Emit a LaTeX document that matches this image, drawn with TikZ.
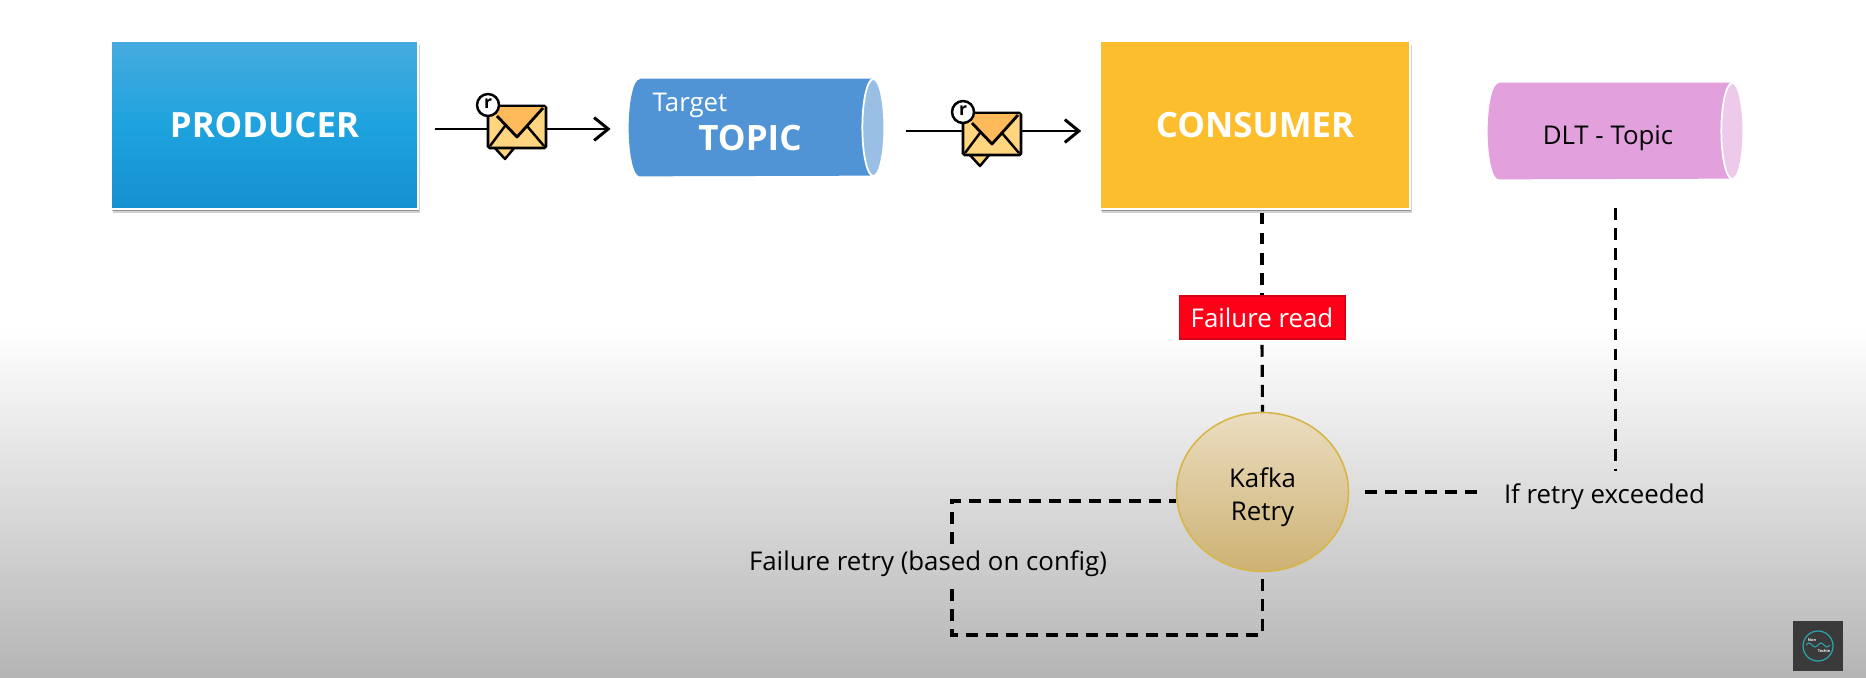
\documentclass[tikz,border=0pt]{standalone}
\usepackage{fontspec}
\setmainfont{Open Sans}
\usetikzlibrary{arrows.meta,shapes.geometric,shadows,positioning}
\definecolor{prodtop}{HTML}{46ABDE}
\definecolor{prodmid}{HTML}{1EA3DE}
\definecolor{prodbot}{HTML}{1590CE}
\definecolor{consfill}{HTML}{FDBE2E}
\definecolor{topicbody}{HTML}{5194D5}
\definecolor{topiccap}{HTML}{9ABFE5}
\definecolor{dltbody}{HTML}{E2A0DD}
\definecolor{dltcap}{HTML}{EDC9EA}
\definecolor{failred}{HTML}{FF0019}
\definecolor{kafkatop}{HTML}{EBDDC0}
\definecolor{kafkabot}{HTML}{CDB273}
\definecolor{kafkaline}{HTML}{D8B548}
\definecolor{mailback}{HTML}{FFD67F}
\definecolor{mailflap}{HTML}{FDB95A}
\definecolor{logoback}{HTML}{3A3A3A}
\definecolor{logoteal}{HTML}{2AA5AC}
% body and end cap of a pipe, drawn from the corners of its node
\newcommand{\pipebody}[3]{
    \fill[#2] ([xshift=0.22cm]#1.north west) -- ([xshift=-0.22cm]#1.north east)
        arc[start angle=90,end angle=-90,x radius=0.22cm,y radius=0.5*\pipeheight]
        -- ([xshift=0.22cm]#1.south west)
        arc[start angle=270,end angle=90,x radius=0.22cm,y radius=0.5*\pipeheight] -- cycle;
    \draw[white,line width=1pt,fill=#3] ([xshift=-0.22cm]#1.east) ellipse[x radius=0.22cm,y radius=0.5*\pipeheight];
}
\newlength{\pipeheight}
\tikzset{
  bigbox/.style={shape=rectangle,draw=white,line width=1pt,minimum width=6.2cm,minimum height=3.36cm,
    font=\fontsize{19.8}{22}\selectfont\bfseries,text=white,
    general shadow={shadow xshift=1pt,shadow yshift=-2pt,fill=black,opacity=0.18},
    general shadow={shadow xshift=0.4pt,shadow yshift=-0.9pt,fill=black,opacity=0.3}},
  pipe/.style={shape=rectangle,inner sep=0pt,minimum width=5.1cm},
  flow/.style={draw=black,line width=1.6pt,-{Straight Barb[length=8pt,width=13pt,line width=1.7pt]}},
  dashline/.style={draw=black,line width=1.8pt,dash pattern=on 6.8pt off 4.6pt},
  plain/.style={font=\fontsize{14.7}{17}\selectfont,text=black},
  mailicon/.pic={
    \draw[fill=mailback,line width=1.4pt,line join=round] (-23,20) -- (-12,32) -- (-2,20) -- cycle;
    \draw[fill=mailback,line width=1.6pt,rounded corners=1pt] (-29,-21) rectangle (29,21);
    \fill[mailflap] (-28,-20) -- (28,-20) -- (0,10) -- cycle;
    \draw[line width=1.4pt] (-27,19) -- (-12,-1);
    \draw[line width=1.4pt] (10,-1) -- (27,19);
    \draw[line width=1.6pt,line join=round] (-20,-11) -- (0,10) -- (26,-19);
    \draw[fill=white,line width=1.4pt] (-29,-22) circle (11);
    \node[font=\fontsize{10}{10}\selectfont\bfseries] (-badge) at (-29,-23) {r};
  }
}

\begin{document}
\begin{tikzpicture}[x=0.02cm,y=-0.02cm]

    % page and background
    \useasboundingbox (0,0) rectangle (1866,677);
    \fill[white] (0,0) rectangle (1866,677);
    \shade[top color=white,bottom color=black!29] (0,328) rectangle (1866,677);

    % top row
    \node[bigbox,minimum width=6.14cm,top color=prodtop,bottom color=prodbot,middle color=prodmid] (producer) at (264.5,125) {PRODUCER};
    \node[bigbox,fill=consfill] (consumer) at (1255,125) {CONSUMER};

    \setlength{\pipeheight}{1.94cm}
    \node[pipe,minimum height=1.94cm] (topic) at (756.5,127.5) {};
    \pipebody{topic}{topicbody}{topiccap}
    \setlength{\pipeheight}{1.92cm}
    \node[pipe,minimum height=1.92cm] (dlt) at (1615.5,131) {};
    \pipebody{dlt}{dltbody}{dltcap}

    \node[font=\fontsize{14.7}{17}\selectfont,text=white] (target) at (690,105.5) {Target};
    \node[font=\fontsize{19.9}{22}\selectfont\bfseries,text=white] (topicname) at (750,138) {TOPIC};
    \node[plain] (dltname) at (1608,138.5) {DLT - Topic};

    % messages on the arrows
    \coordinate (msgA) at (517,129);
    \coordinate (msgB) at (992,131);
    \draw[flow,shorten <=9pt,shorten >=10.3pt] (producer.east |- msgA) -- (topic.west |- msgA);
    \draw[flow,shorten <=12.5pt,shorten >=10.2pt] (topic.east |- msgB) -- (consumer.west |- msgB);
    \pic at (517,127) {mailicon};
    \pic at (992,134) {mailicon};

    % retry part
    \node[shape=rectangle,draw=failred!85!black,line width=0.6pt,fill=failred,text=white,font=\fontsize{14.7}{17}\selectfont,
        minimum width=3.32cm,minimum height=0.86cm] (fail) at (1262,317.5) {Failure read};
    \node[shape=ellipse,draw=kafkaline,line width=0.9pt,top color=kafkatop,bottom color=kafkabot,minimum width=3.44cm,minimum height=3.18cm,
        align=center,plain] (kafka) at (1262.5,492) {\rule{0pt}{17.3pt}Kafka\\[2pt]Retry};
    \node[plain] (exceed) at (1604.5,496.5) {If retry exceeded};
    \node[plain] (failretry) at (928,563.5) {Failure retry (based on config)};

    \coordinate (loopBR) at (kafka.south |- 0,635);
    \coordinate (loopBL) at (952,635);
    \coordinate (loopTL) at (952,501);

    \draw[dashline,shorten <=1.5pt] (consumer.south -| fail) -- (fail.north);
    \draw[dashline,shorten <=3pt] (fail.south) -- (kafka.north);
    \draw[dashline,shorten <=16.5pt,shorten >=3.7pt] (dlt.south) -- (dlt.south |- exceed.north);
    \draw[dashline,shorten <=9pt,shorten >=8.5pt] (kafka.east) -- (kafka.east -| exceed.west);
    \draw[dashline,shorten <=4pt] (kafka.south) -- (loopBR) -- (loopBL) -- (loopBL |- failretry.south);
    \draw[dashline] (loopTL |- failretry.north) -- (loopTL) -- (kafka.west |- loopTL);

    % corner logo
    \node[shape=rectangle,fill=logoback,minimum width=1cm,minimum height=1cm,inner sep=0pt] (logo) at (1818,646) {};
    \node[shape=circle,draw=logoteal,line width=0.7pt,minimum size=0.6cm,inner sep=0pt] (logoring) at (logo) {};
    \draw[logoteal,line width=0.6pt] (1806,645) sin (1809,643) cos (1812,645) sin (1815,647) cos (1818,645) sin (1821,643) cos (1824,645) sin (1827,647) cos (1830,645);
    \node[font=\fontsize{2.2}{2.2}\selectfont\bfseries,text=white,inner sep=0pt] (logoa) at (1812,640) {Non};
    \node[font=\fontsize{2.2}{2.2}\selectfont\bfseries,text=white,inner sep=0pt] (logob) at (1824,651) {Techie};

\end{tikzpicture}
\end{document}
